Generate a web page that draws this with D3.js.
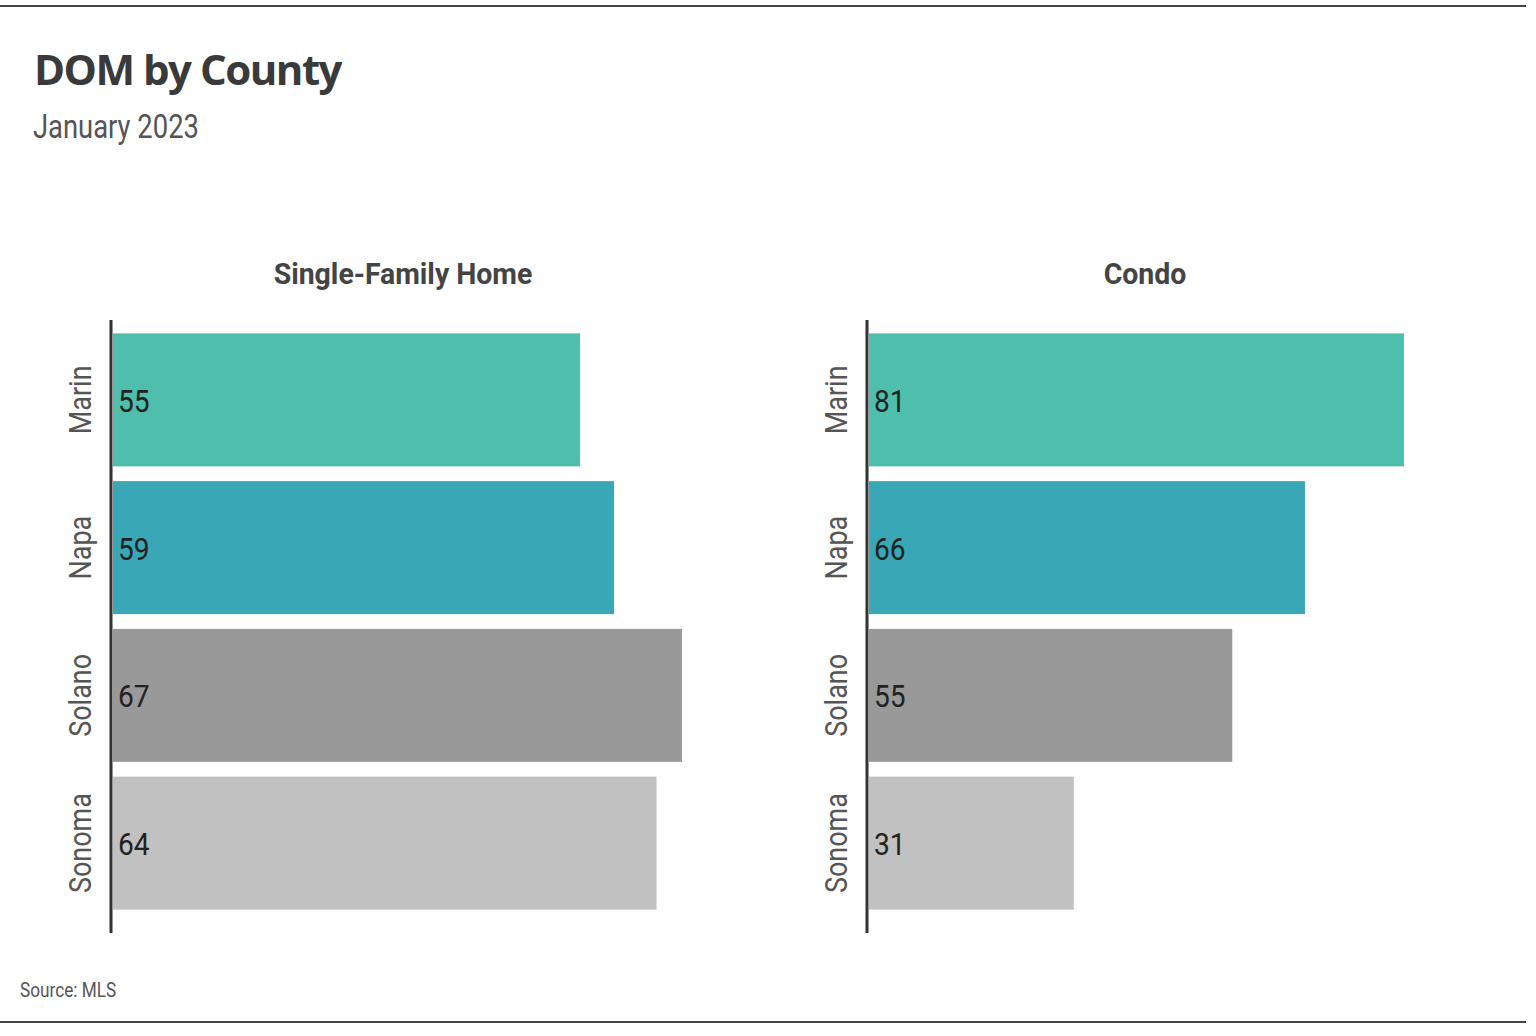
<!DOCTYPE html>
<html>
<head>
<meta charset="utf-8">
<script src="https://cdn.jsdelivr.net/npm/d3@7"></script>
<style>
  html, body { margin: 0; padding: 0; background: #fff; }
  svg { display: block; }
</style>
</head>
<body>
<div id="chart"></div>
<script>
// Data
const counties = ['Marin', 'Napa', 'Solano', 'Sonoma'];
const singleFamily = [55, 59, 67, 64];
const condo = [81, 66, 55, 31];
const countyColors = ['#4fbeac', '#3aa7b7', '#999999', '#c1c1c1'];

const width = 1536;
const height = 1036;
const narrow = '"Liberation Sans Narrow", "Arial Narrow", "Roboto", sans-serif';
const sans = '"Open Sans", "Noto Sans", sans-serif';

const svg = d3.select('#chart')
  .append('svg')
  .attr('width', width)
  .attr('height', height);

// frame lines
svg.append('line')
  .attr('x1', 0).attr('x2', 1526)
  .attr('y1', 6).attr('y2', 6)
  .attr('stroke', '#444').attr('stroke-width', 2);
svg.append('line')
  .attr('x1', 0).attr('x2', 1526)
  .attr('y1', 1022).attr('y2', 1022)
  .attr('stroke', '#444').attr('stroke-width', 2);

// Title + subtitle
svg.append('text')
  .attr('x', 34).attr('y', 85)
  .style('font-family', sans)
  .style('font-size', '42px')
  .style('font-weight', 'bold')
  .style('letter-spacing', '-1.5px')
  .style('fill', '#3a3a3a')
  .text('DOM by County');

// condensed look: squeeze horizontally
svg.append('text')
  .attr('transform', 'translate(33,138) scale(0.83,1)')
  .style('font-family', narrow)
  .style('font-size', '33px')
  .style('fill', '#555')
  .text('January 2023');

// y band scale shared by both panels
const y = d3.scaleBand()
  .domain(counties)
  .range([326, 917])
  .paddingInner(0.1)
  .paddingOuter(0.05);

const color = d3.scaleOrdinal().domain(counties).range(countyColors);

function drawPanel(opts) {
  const { values, title, axisX, titleX, maxValue, rangeWidth } = opts;
  const x = d3.scaleLinear()
    .domain([0, maxValue])
    .range([axisX + 2, axisX + 2 + rangeWidth]);

  const g = svg.append('g');

  g.append('text')
    .attr('transform', `translate(${titleX},284) scale(0.98,1)`)
    .attr('text-anchor', 'middle')
    .style('font-family', narrow)
    .style('font-size', '29px')
    .style('font-weight', 'bold')
    .style('fill', '#444')
    .text(title);

  g.selectAll('rect.bar')
    .data(counties)
    .join('rect')
    .attr('class', 'bar')
    .attr('x', x(0))
    .attr('y', d => y(d))
    .attr('width', (d, i) => x(values[i]) - x(0))
    .attr('height', y.bandwidth())
    .attr('fill', d => color(d));

  g.selectAll('text.val')
    .data(counties)
    .join('text')
    .attr('class', 'val')
    .attr('transform', d => `translate(${x(0) + 5},${y(d) + y.bandwidth() / 2 + 12}) scale(0.88,1)`)
    .style('font-family', narrow)
    .style('font-size', '32px')
    .style('fill', '#222')
    .text((d, i) => values[i]);

  g.selectAll('text.cat')
    .data(counties)
    .join('text')
    .attr('class', 'cat')
    .attr('transform', d => `translate(${axisX - 20},${y(d) + y.bandwidth() / 2}) rotate(-90) scale(0.87,1)`)
    .attr('text-anchor', 'middle')
    .style('font-family', narrow)
    .style('font-size', '31px')
    .style('fill', '#555')
    .text(d => d);

  // axis line
  g.append('line')
    .attr('x1', axisX).attr('x2', axisX)
    .attr('y1', 320).attr('y2', 933)
    .attr('stroke', '#333')
    .attr('stroke-width', 3);
}

drawPanel({ values: singleFamily, title: 'Single-Family Home', axisX: 111, titleX: 403, maxValue: 67, rangeWidth: 569 });
drawPanel({ values: condo, title: 'Condo', axisX: 867, titleX: 1145, maxValue: 81, rangeWidth: 535 });

// source
svg.append('text')
  .attr('transform', 'translate(20,997) scale(0.86,1)')
  .style('font-family', narrow)
  .style('font-size', '20px')
  .style('fill', '#555')
  .text('Source: MLS');
</script>
</body>
</html>
